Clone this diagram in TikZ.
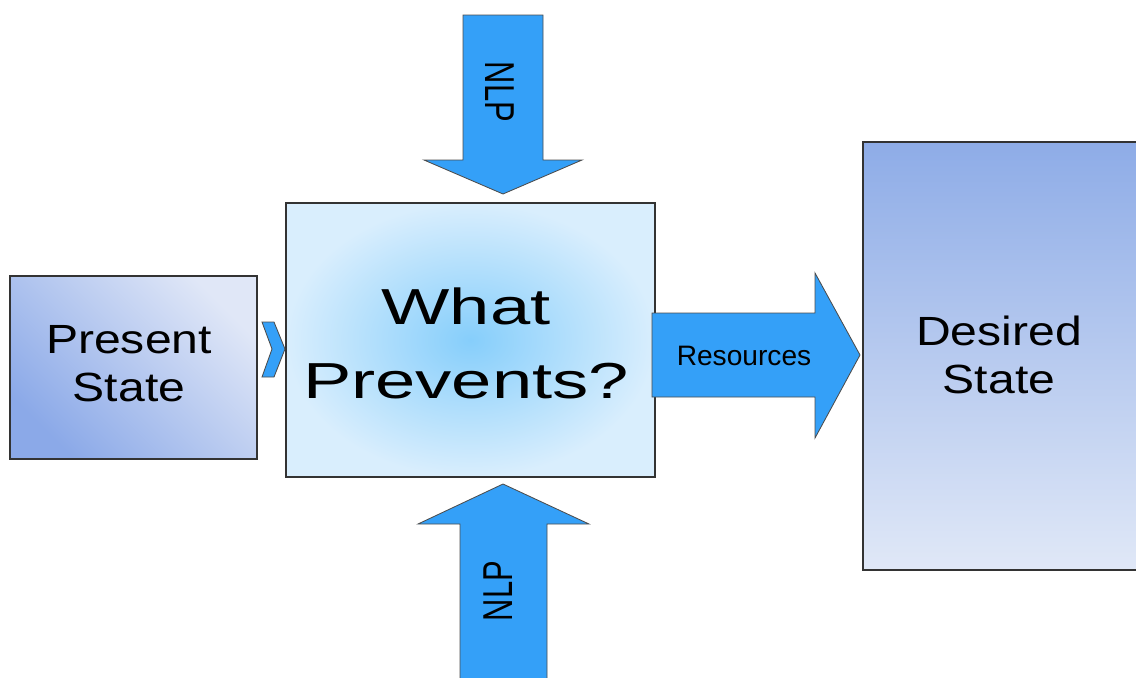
\documentclass[tikz,border=0pt]{standalone}
\usepackage{fontspec}
\setmainfont{Liberation Sans}
\newcommand{\wide}[2]{\scalebox{#1}[1]{#2}}
\definecolor{arrowblue}{HTML}{34A0F8}
\definecolor{psdark}{HTML}{8BA9E8}
\definecolor{pslight}{HTML}{E0E7F7}
\definecolor{wpinner}{HTML}{86CEFB}
\definecolor{wpouter}{HTML}{D9EEFD}
\definecolor{dsdark}{HTML}{8EACE7}
\definecolor{dslight}{HTML}{E0E8F7}

\begin{document}
\begin{tikzpicture}[
            x=.025cm, y=-.025cm,
            box/.style={draw=black!80, line width=.8pt},
            blockarrow/.style={fill=arrowblue, draw=black!70, line width=.6pt},
            state/.style={font=\fontsize{29}{34}\selectfont, align=center},
            nlp/.style={font=\fontsize{22}{26}\selectfont},
        ]
            \useasboundingbox (0, 0) rectangle (1136, 677);
            % boxes
            \draw[box, top color=pslight, bottom color=psdark, shading angle=-45] (10, 276) rectangle (257, 459);
            \node[state] (present) at (129, 364) {\wide{1.18}{Present}\\\wide{1.18}{State}};
            \draw[box, inner color=wpinner, outer color=wpouter] (286, 203) rectangle (655, 477);
            \node[font=\fontsize{36}{52.6}\selectfont, align=center] (prevents) at (466, 343) {\wide{1.43}{What}\\\wide{1.43}{Prevents?}};
            \draw[box, top color=dsdark, bottom color=dslight] (863, 142) rectangle (1145, 570);
            \node[state] (desired) at (999, 355) {\wide{1.18}{Desired}\\\wide{1.18}{State}};
            % small chevron
            \filldraw[blockarrow] (262, 322) -- (274, 322) -- (285, 349) -- (274, 377) -- (262, 377) -- (272, 349) -- cycle;
            % NLP arrows
            \filldraw[blockarrow] (463, 15) -- (543, 15) -- (543, 160) -- (582, 160) -- (503, 194) -- (424, 160) -- (463, 160) -- cycle;
            \node[nlp, rotate=-90] (nlptop) at (500, 92) {\scalebox{1}[1.35]{NLP}};
            \filldraw[blockarrow] (460, 690) -- (460, 524) -- (418, 524) -- (503, 484) -- (589, 524) -- (547, 524) -- (547, 690) -- cycle;
            \node[nlp, rotate=90] (nlpbottom) at (498, 591) {\scalebox{1}[1.35]{NLP}};
            % resources
            \filldraw[blockarrow] (652, 313) -- (815, 313) -- (815, 273) -- (860, 355) -- (815, 438) -- (815, 397) -- (652, 397) -- cycle;
            \node[font=\fontsize{20}{24}\selectfont] (resources) at (744, 356) {Resources};
        \end{tikzpicture}
\end{document}
